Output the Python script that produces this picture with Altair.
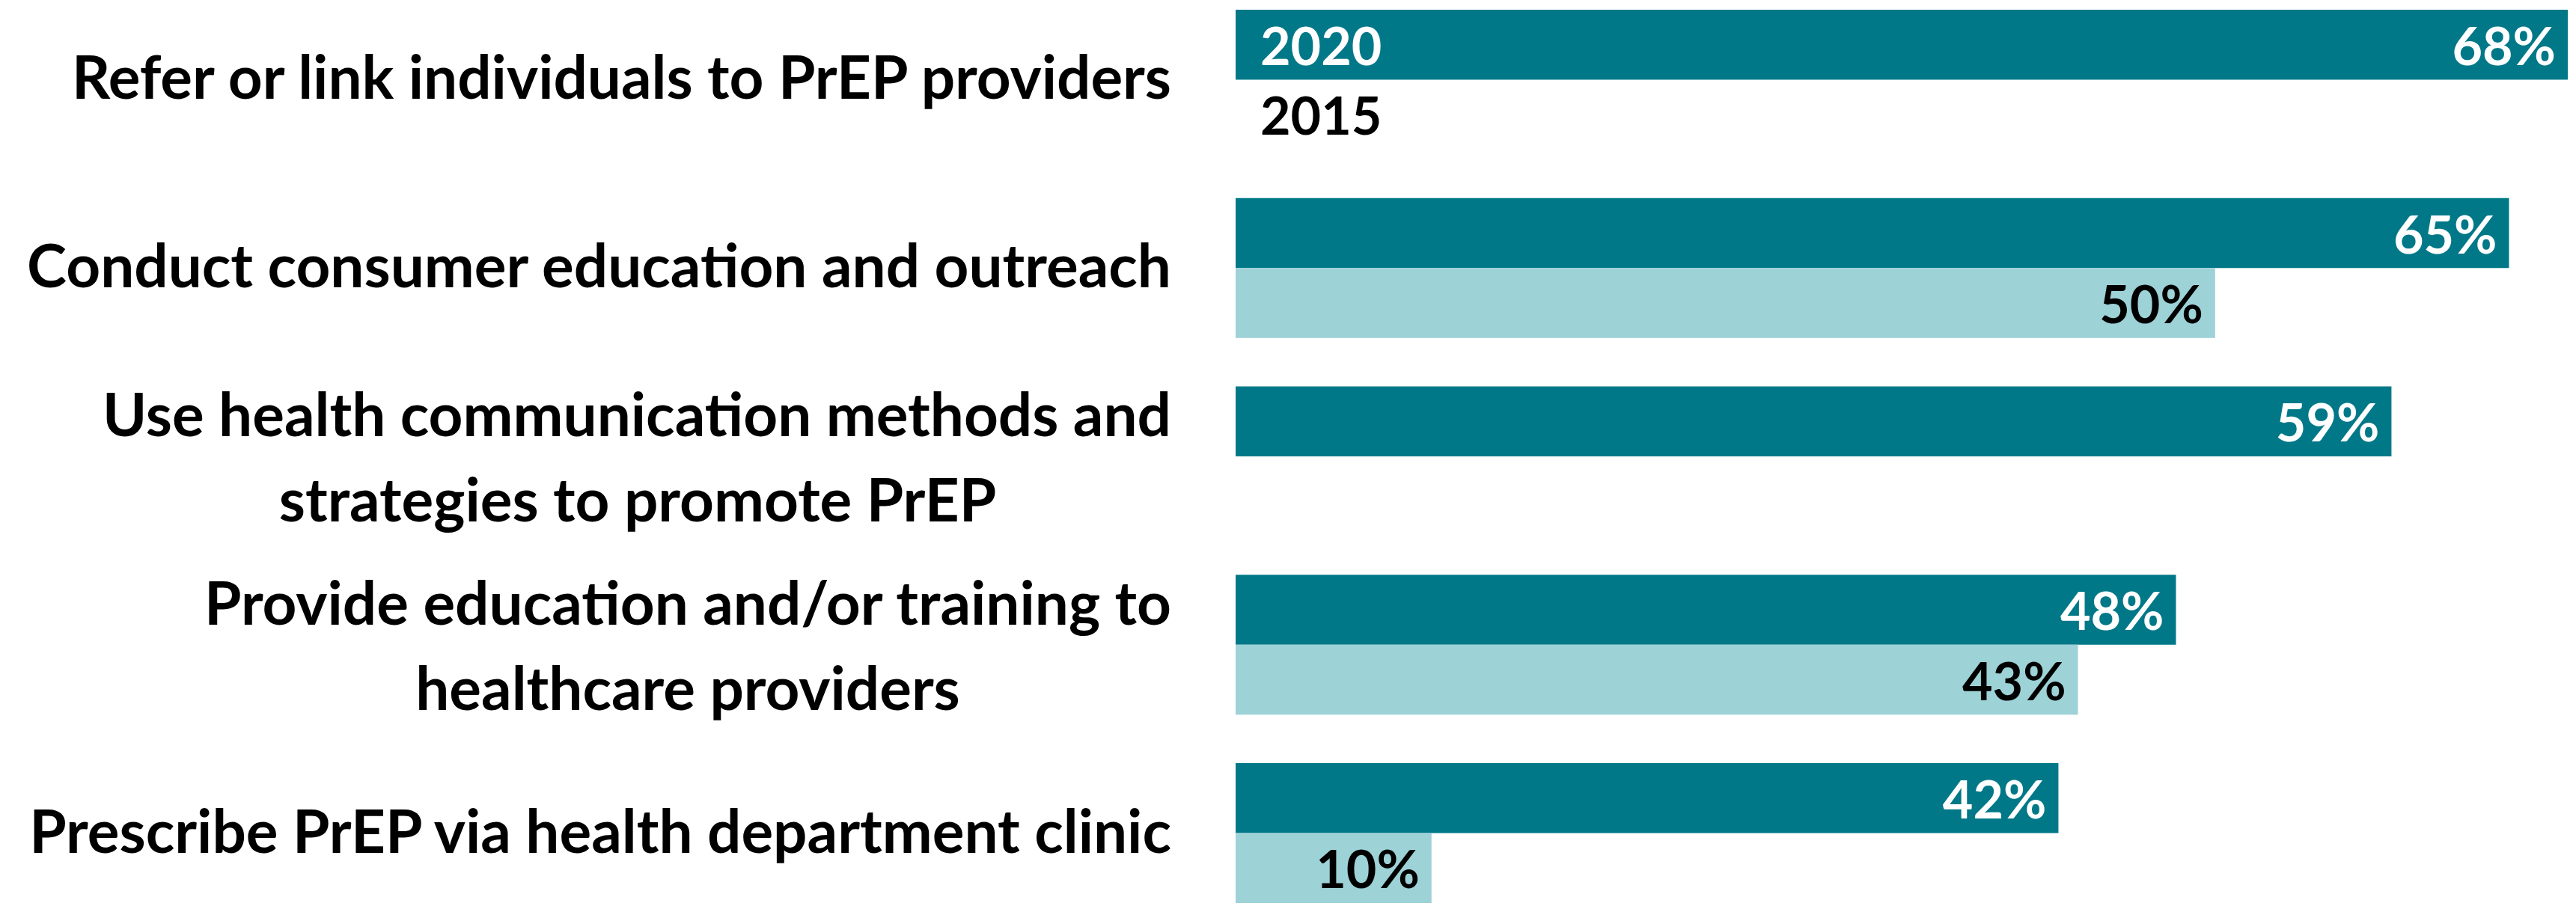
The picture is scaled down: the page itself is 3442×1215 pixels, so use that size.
import altair as alt
import pandas as pd

categories = [
    "Refer or link individuals to PrEP providers",
    "Conduct consumer education and outreach",
    "Use health communication methods and strategies to promote PrEP",
    "Provide education and/or training to healthcare providers",
    "Prescribe PrEP via health department clinic",
]
label_line1 = [
    "Refer or link individuals to PrEP providers",
    "Conduct consumer education and outreach",
    "Use health communication methods and",
    "Provide education and/or training to",
    "Prescribe PrEP via health department clinic",
]
label_line2 = ["", "", "strategies to promote PrEP", "healthcare providers", ""]
years = ["2020", "2015"]
values_2020 = [68, 65, 59, 48, 42]
values_2015 = [None, 50, None, 43, 10]
colors = ["#007888", "#9DD2D7"]

rows = []
for c, a, b in zip(categories, values_2020, values_2015):
    rows.append(dict(category=c, year="2020", value=a, label=f"{a}%"))
    if b is not None:
        rows.append(dict(category=c, year="2015", value=b, label=f"{b}%"))
df = pd.DataFrame(rows)

lab = pd.DataFrame(dict(category=categories, line1=label_line1, line2=label_line2))
series_df = pd.DataFrame(dict(category=[categories[0]] * 2, year=years))

FONT = "Lato"
FS_LABEL = 80
FS_VAL = 70
LABEL_X = -86

y = alt.Y("category:N", sort=categories, axis=None,
          scale=alt.Scale(paddingInner=0.2577, paddingOuter=0))
yoff = alt.YOffset("year:N", sort=years, scale=alt.Scale(domain=years, paddingInner=0, paddingOuter=0))
x = alt.X("value:Q", axis=None, scale=alt.Scale(domain=[0, 68], nice=False, zero=True))

base = alt.Chart(df)
bars = base.mark_bar().encode(
    x=x, y=y, yOffset=yoff,
    color=alt.Color("year:N", sort=years, scale=alt.Scale(domain=years, range=colors), legend=None),
)
vtxt = dict(baseline="middle", font=FONT, fontSize=FS_VAL, fontWeight="bold", dy=6)
ltxt = dict(baseline="middle", font=FONT, fontSize=FS_LABEL, fontWeight="bold")
vals20 = base.transform_filter("datum.year == '2020'").mark_text(
    align="right", dx=-16, color="white", **vtxt).encode(x=x, y=y, yOffset=yoff, text="label:N")
vals15 = base.transform_filter("datum.year == '2015'").mark_text(
    align="right", dx=-16, color="black", **vtxt).encode(x=x, y=y, yOffset=yoff, text="label:N")

sbase = alt.Chart(series_df)
ser20 = sbase.transform_filter("datum.year == '2020'").mark_text(
    align="left", color="white", **vtxt).encode(x=alt.value(33), y=y, yOffset=yoff, text="year:N")
ser15 = sbase.transform_filter("datum.year == '2015'").mark_text(
    align="left", color="black", **vtxt).encode(x=alt.value(33), y=y, yOffset=yoff, text="year:N")

lbase = alt.Chart(lab)
single = lbase.transform_filter("datum.line2 == ''").mark_text(
    align="right", color="black", dy=2, **ltxt).encode(x=alt.value(LABEL_X), y=y, text="line1:N")
double1 = lbase.transform_filter("datum.line2 != ''").mark_text(
    align="right", color="black", dy=-51, **ltxt).encode(x=alt.value(LABEL_X), y=y, text="line1:N")
centers = {categories[2]: -799, categories[3]: -732}
double2 = [
    lbase.transform_filter(alt.datum.category == c).mark_text(
        align="center", color="black", dy=63, **ltxt).encode(x=alt.value(cx), y=y, text="line2:N")
    for c, cx in centers.items()
]

chart = alt.layer(bars, vals20, vals15, ser20, ser15, single, double1, *double2).properties(
    width=1780, height=1194,
    autosize=alt.AutoSizeParams(type="none"),
    padding={"left": 1643, "top": 5, "right": 3, "bottom": 0},
).configure_view(stroke=None)

chart.save("out.html", embed_options={"renderer": "svg", "actions": False})
